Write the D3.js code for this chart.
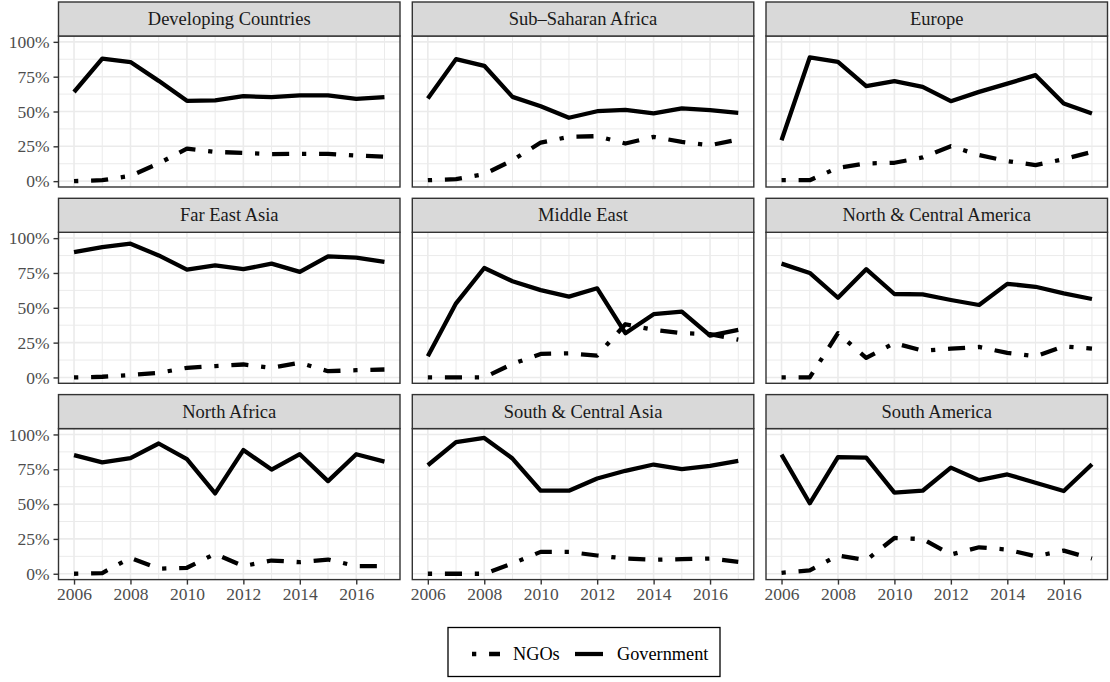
<!DOCTYPE html>
<html>
<head>
<meta charset="utf-8">
<script src="https://cdn.jsdelivr.net/npm/d3@7"></script>
<style>
  html, body { margin: 0; padding: 0; background: #fff; }
  svg { display: block; }
</style>
</head>
<body>
<svg id="chart" width="1110" height="682"></svg>
<script>
// Share of funding channelled through each actor, by region, 2006–2017
const years = [2006, 2007, 2008, 2009, 2010, 2011, 2012, 2013, 2014, 2015, 2016, 2017];
const regions = [
  "Developing Countries", "Sub\u2013Saharan Africa", "Europe",
  "Far East Asia", "Middle East", "North & Central America",
  "North Africa", "South & Central Asia", "South America"
];
const seriesNames = ["NGOs", "Government"];

const governmentShare = [
  [0.64, 0.88, 0.855, 0.72, 0.577, 0.58, 0.61, 0.603, 0.615, 0.615, 0.59, 0.603],
  [0.593, 0.876, 0.828, 0.605, 0.538, 0.455, 0.502, 0.512, 0.486, 0.522, 0.51, 0.49],
  [0.294, 0.888, 0.856, 0.682, 0.718, 0.677, 0.574, 0.641, 0.70, 0.761, 0.557, 0.486],
  [0.90, 0.936, 0.96, 0.876, 0.774, 0.805, 0.777, 0.817, 0.758, 0.869, 0.86, 0.829],
  [0.152, 0.532, 0.786, 0.691, 0.627, 0.58, 0.64, 0.318, 0.454, 0.473, 0.30, 0.342],
  [0.817, 0.75, 0.572, 0.777, 0.599, 0.596, 0.556, 0.52, 0.672, 0.651, 0.603, 0.563],
  [0.852, 0.80, 0.83, 0.935, 0.823, 0.577, 0.888, 0.748, 0.858, 0.665, 0.858, 0.805],
  [0.779, 0.945, 0.975, 0.827, 0.596, 0.596, 0.684, 0.739, 0.784, 0.751, 0.774, 0.81],
  [0.855, 0.506, 0.838, 0.834, 0.582, 0.596, 0.762, 0.672, 0.713, 0.653, 0.594, 0.786]
];

const ngoShare = [
  [0.0, 0.007, 0.038, 0.127, 0.234, 0.21, 0.203, 0.194, 0.196, 0.196, 0.184, 0.175],
  [0.007, 0.014, 0.05, 0.15, 0.277, 0.318, 0.323, 0.27, 0.318, 0.282, 0.258, 0.299],
  [0.007, 0.007, 0.096, 0.127, 0.132, 0.17, 0.251, 0.187, 0.144, 0.115, 0.158, 0.21],
  [0.0, 0.005, 0.017, 0.033, 0.069, 0.081, 0.093, 0.069, 0.105, 0.045, 0.052, 0.057],
  [0.0, 0.0, 0.0, 0.097, 0.169, 0.173, 0.157, 0.382, 0.342, 0.318, 0.311, 0.271],
  [0.0, 0.0, 0.318, 0.14, 0.247, 0.192, 0.207, 0.219, 0.176, 0.152, 0.223, 0.207],
  [0.0, 0.005, 0.114, 0.036, 0.043, 0.143, 0.055, 0.095, 0.083, 0.102, 0.055, 0.055],
  [0.0, 0.0, 0.0, 0.074, 0.157, 0.157, 0.131, 0.109, 0.10, 0.105, 0.109, 0.086],
  [0.007, 0.024, 0.131, 0.097, 0.257, 0.249, 0.138, 0.19, 0.173, 0.126, 0.166, 0.109]
];

const yTicks = [0, 0.25, 0.5, 0.75, 1];
const yMinor = [0.125, 0.375, 0.625, 0.875];
const xTicks = [2006, 2008, 2010, 2012, 2014, 2016];

// facet geometry
const colLeft = [58.5, 412.3, 766];
const panelW = 341.5;
const rowTop = [2, 198.3, 394.6];
const stripH = 34;
const panelH = 151;

const FONT = '"Liberation Serif"';
const lineW = 4.27;
const dotDash = [1, 3, 4, 3].map(d => d * lineW).join(",");
const styleFor = { "NGOs": dotDash, "Government": "none" };

const svg = d3.select("#chart");
const fmtPct = d3.format(".0%");

regions.forEach((name, i) => {
  const col = i % 3, row = Math.floor(i / 3);
  const x0 = colLeft[col];
  const top = rowTop[row] + stripH;
  const bottom = top + panelH;

  const x = d3.scaleLinear().domain([2006 - 0.55, 2017 + 0.55]).range([x0, x0 + panelW]);
  const y = d3.scaleLinear().domain([-0.042, 1.042]).range([bottom, top]);

  const g = svg.append("g");

  // panel background and grid
  g.append("rect").attr("x", x0).attr("y", top).attr("width", panelW).attr("height", panelH)
    .attr("fill", "#fff");
  const grid = g.append("g").attr("stroke", "#ebebeb").attr("fill", "none");
  yMinor.forEach(v => grid.append("line").attr("x1", x0).attr("x2", x0 + panelW)
    .attr("y1", y(v)).attr("y2", y(v)).attr("stroke-width", 1));
  years.filter(v => !xTicks.includes(v)).forEach(v => grid.append("line")
    .attr("x1", x(v)).attr("x2", x(v)).attr("y1", top).attr("y2", bottom).attr("stroke-width", 1));
  yTicks.forEach(v => grid.append("line").attr("x1", x0).attr("x2", x0 + panelW)
    .attr("y1", y(v)).attr("y2", y(v)).attr("stroke-width", 1.6));
  xTicks.forEach(v => grid.append("line").attr("x1", x(v)).attr("x2", x(v))
    .attr("y1", top).attr("y2", bottom).attr("stroke-width", 1.6));

  // lines
  const line = d3.line().x((d, k) => x(years[k])).y(d => y(d));
  const clipId = "clip" + i;
  svg.append("clipPath").attr("id", clipId).append("rect")
    .attr("x", x0).attr("y", top).attr("width", panelW).attr("height", panelH);
  const lines = g.append("g").attr("clip-path", `url(#${clipId})`);
  [["NGOs", ngoShare[i]], ["Government", governmentShare[i]]].forEach(([s, vals]) => {
    lines.append("path").attr("d", line(vals))
      .attr("fill", "none").attr("stroke", "#000").attr("stroke-width", lineW)
      .attr("stroke-linejoin", "round").attr("stroke-linecap", "butt")
      .attr("stroke-dasharray", styleFor[s]);
  });

  // panel border
  g.append("rect").attr("x", x0).attr("y", top).attr("width", panelW).attr("height", panelH)
    .attr("fill", "none").attr("stroke", "#333").attr("stroke-width", 1.4);

  // strip
  g.append("rect").attr("x", x0).attr("y", rowTop[row]).attr("width", panelW).attr("height", stripH)
    .attr("fill", "#d9d9d9").attr("stroke", "#333").attr("stroke-width", 1.4);
  g.append("text").attr("x", x0 + panelW / 2).attr("y", rowTop[row] + stripH / 2 + 6)
    .attr("text-anchor", "middle").style("font-family", FONT)
    .attr("font-size", 18.5).attr("fill", "#1a1a1a").text(name);

  // y axis on the first column
  if (col === 0) {
    const ay = g.append("g").attr("transform", `translate(${x0},0)`)
      .call(d3.axisLeft(y).tickValues(yTicks).tickFormat(fmtPct).tickSize(5).tickPadding(4));
    ay.select(".domain").remove();
    ay.selectAll(".tick line").attr("stroke", "#333").attr("stroke-width", 1.4);
    ay.selectAll(".tick text").attr("fill", "#4d4d4d")
      .style("font-family", FONT).attr("font-size", 17.5);
  }
  // x axis on the bottom row
  if (row === 2) {
    const ax = g.append("g").attr("transform", `translate(0,${bottom})`)
      .call(d3.axisBottom(x).tickValues(xTicks).tickFormat(d3.format("d")).tickSize(5).tickPadding(3));
    ax.select(".domain").remove();
    ax.selectAll(".tick line").attr("stroke", "#333").attr("stroke-width", 1.4);
    ax.selectAll(".tick text").attr("fill", "#4d4d4d")
      .style("font-family", FONT).attr("font-size", 17.5);
  }
});

// legend
const lg = svg.append("g");
lg.append("rect").attr("x", 448).attr("y", 627.5).attr("width", 272).attr("height", 49)
  .attr("fill", "#fff").attr("stroke", "#000").attr("stroke-width", 1.3);
const keyX = [472, 575];
const labelX = [513, 617];
seriesNames.forEach((s, k) => {
  lg.append("line").attr("x1", keyX[k]).attr("x2", keyX[k] + 28).attr("y1", 654).attr("y2", 654)
    .attr("stroke", "#000").attr("stroke-width", lineW).attr("stroke-linecap", "butt")
    .attr("stroke-dasharray", styleFor[s]);
  lg.append("text").attr("x", labelX[k]).attr("y", 660)
    .style("font-family", FONT).attr("font-size", 18.3)
    .attr("fill", "#000").text(s);
});
</script>
</body>
</html>
